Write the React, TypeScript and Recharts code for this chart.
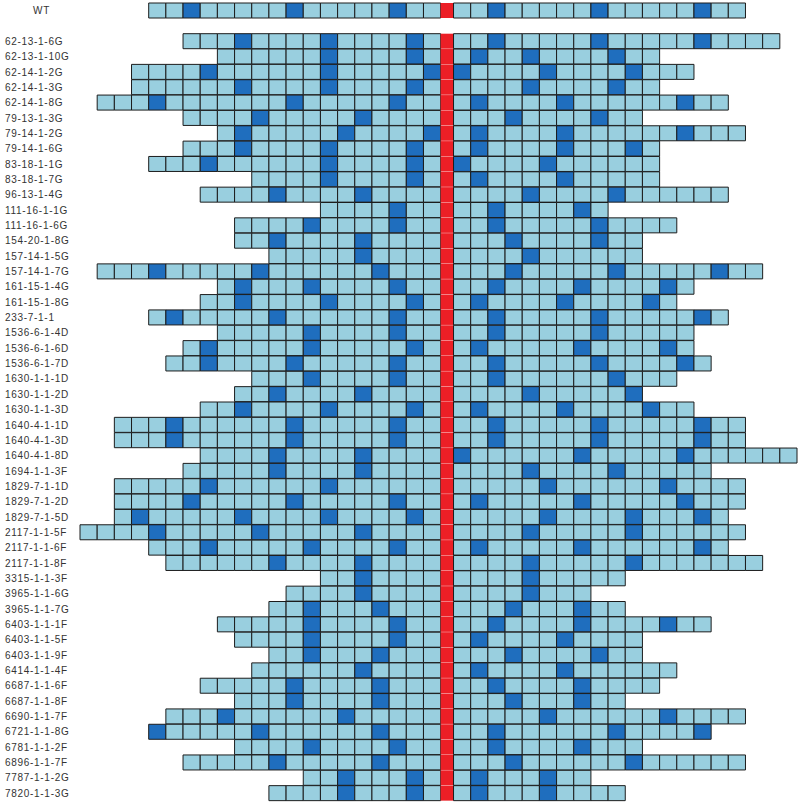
import React from 'react';
import { BarChart, Bar, XAxis, YAxis, Cell } from 'recharts';

// reference row (drawn on top, followed by an empty row)
const WT_LABEL = 'WT';
const WT_LEFT = 17;
const WT_RIGHT = 17;
const WT_LEFT_DARK = [3, 9, 15];
const WT_RIGHT_DARK = [3, 9, 15];

const labels = [
  '62-13-1-6G', '62-13-1-10G', '62-14-1-2G', '62-14-1-3G', '62-14-1-8G',
  '79-13-1-3G', '79-14-1-2G', '79-14-1-6G', '83-18-1-1G', '83-18-1-7G',
  '96-13-1-4G', '111-16-1-1G', '111-16-1-6G', '154-20-1-8G', '157-14-1-5G',
  '157-14-1-7G', '161-15-1-4G', '161-15-1-8G', '233-7-1-1', '1536-6-1-4D',
  '1536-6-1-6D', '1536-6-1-7D', '1630-1-1-1D', '1630-1-1-2D', '1630-1-1-3D',
  '1640-4-1-1D', '1640-4-1-3D', '1640-4-1-8D', '1694-1-1-3F', '1829-7-1-1D',
  '1829-7-1-2D', '1829-7-1-5D', '2117-1-1-5F', '2117-1-1-6F', '2117-1-1-8F',
  '3315-1-1-3F', '3965-1-1-6G', '3965-1-1-7G', '6403-1-1-1F', '6403-1-1-5F',
  '6403-1-1-9F', '6414-1-1-4F', '6687-1-1-6F', '6687-1-1-8F', '6690-1-1-7F',
  '6721-1-1-8G', '6781-1-1-2F', '6896-1-1-7F', '7787-1-1-2G', '7820-1-1-3G',
];

// number of cells left / right of the red centre cell
const leftCounts = [
  15, 13, 18, 18, 20, 15, 13, 15, 17, 11,
  14, 7, 12, 12, 10, 20, 13, 14, 17, 13,
  15, 16, 11, 12, 14, 19, 19, 14, 15, 19,
  19, 19, 21, 17, 16, 7, 9, 10, 13, 12,
  10, 11, 14, 12, 16, 17, 12, 15, 8, 10,
];
const rightCounts = [
  19, 12, 14, 12, 16, 11, 17, 12, 12, 12,
  16, 9, 13, 11, 11, 18, 14, 13, 16, 14,
  14, 15, 13, 11, 14, 17, 17, 20, 15, 17,
  17, 16, 17, 16, 18, 10, 8, 10, 15, 11,
  11, 13, 12, 10, 17, 15, 11, 17, 8, 10,
];

// dark cells, counted outward from the centre (1 = next to red)
const leftDark = [
  [12, 7, 2], [7, 2], [14, 7, 1], [12, 7, 2], [17, 9, 3],
  [11, 5], [12, 6, 1], [12, 7, 2], [14, 7, 2], [7, 2],
  [10, 5], [3], [8, 3], [10, 5], [5],
  [17, 11, 4], [12, 8, 3], [12, 7, 2], [16, 10, 3], [8, 3],
  [14, 8, 2], [14, 9, 3], [8, 3], [10, 5], [12, 7, 2],
  [16, 9, 3], [16, 9, 3], [10, 5], [10, 5], [14, 7],
  [15, 9, 3], [18, 12, 7, 2], [17, 11, 5], [14, 8, 3], [10, 5],
  [5], [5], [8, 4], [8, 3], [8, 3],
  [8, 4], [5], [9, 4], [9, 4], [13, 6],
  [17, 11, 4], [8, 3], [10, 4], [6, 2], [6, 2],
];
const rightDark = [
  [3, 9, 15], [2, 5, 10], [1, 6, 11], [5, 10], [2, 7, 14],
  [4, 9], [2, 7, 14], [2, 7, 11], [1, 6], [2, 7],
  [5, 10], [3, 8], [3, 9], [4, 9], [5],
  [4, 10, 16], [3, 8, 13], [2, 7, 12], [3, 9, 15], [3, 9],
  [2, 8, 13], [3, 9, 14], [3, 10], [5, 11], [2, 7, 12],
  [3, 9, 15], [3, 9, 15], [1, 8, 14], [5, 10], [6, 13],
  [2, 8, 14], [6, 11, 15], [5, 11], [2, 8, 15], [5, 11],
  [5], [5], [4, 8], [3, 8, 13], [2, 7],
  [4, 9], [2, 7], [3, 8], [4, 8], [6, 13],
  [3, 10, 15], [3, 8], [4, 11], [2, 6], [2, 6],
];

const LIGHT = '#99cfdf';
const DARK = '#1f6ebe';
const RED = '#ec1f26';
const EDGE = '#1c1c1c';
const CENTER = 0.75;

const rows = [
  { name: WT_LABEL, L: WT_LEFT, R: WT_RIGHT, dl: WT_LEFT_DARK, dr: WT_RIGHT_DARK },
  { name: '', L: 0, R: 0, dl: [], dr: [] },
  ...labels.map((name, i) => ({
    name,
    L: leftCounts[i],
    R: rightCounts[i],
    dl: leftDark[i],
    dr: rightDark[i],
  })),
];

const MAX_L = Math.max(...rows.map(r => r.L));
const MAX_R = Math.max(...rows.map(r => r.R));
const leftPos = Array.from({ length: MAX_L }, (_, i) => MAX_L - i);
const rightPos = Array.from({ length: MAX_R }, (_, i) => i + 1);

const tableData = rows.map(r => {
  const o: Record<string, any> = {
    name: r.name,
    pad: r.L ? MAX_L - r.L : 0,
    c: r.L || r.R ? CENTER : 0,
  };
  leftPos.forEach(d => { o[`l${d}`] = d <= r.L ? 1 : 0; });
  rightPos.forEach(d => { o[`r${d}`] = d <= r.R ? 1 : 0; });
  return o;
});

const RowTick = (props: any) => {
  const { y, payload } = props;
  const name = payload.value;
  if (!name) return <g />;
  return (
    <text
      x={name === WT_LABEL ? 33 : 5}
      y={y}
      dy={3.5}
      fontSize={10}
      letterSpacing={0.7}
      fill="#333"
      fontFamily="'Liberation Sans', Arial, sans-serif"
    >
      {name}
    </text>
  );
};

const App = () => {
  return (
    <div style={{ position: 'absolute', left: 0, top: 0, background: '#fff' }}>
      <BarChart
        width={800}
        height={803}
        data={tableData}
        layout="vertical"
        barCategoryGap={0}
        barGap={0}
        margin={{ top: 3, right: 3, bottom: 2, left: 0 }}
      >
        <XAxis type="number" hide domain={[0, MAX_L + CENTER + MAX_R]} />
        <YAxis
          type="category"
          dataKey="name"
          width={80}
          interval={0}
          axisLine={false}
          tickLine={false}
          tick={<RowTick />}
        />
        <Bar dataKey="pad" stackId="s" fill="none" stroke="none" isAnimationActive={false} />
        {leftPos.map(d => (
          <Bar key={`l${d}`} dataKey={`l${d}`} stackId="s" stroke={EDGE} strokeWidth={1} isAnimationActive={false}>
            {rows.map((r, i) => (
              <Cell key={`cl-${d}-${i}`} fill={r.dl.includes(d) ? DARK : LIGHT} />
            ))}
          </Bar>
        ))}
        <Bar dataKey="c" stackId="s" fill={RED} stroke="none" isAnimationActive={false} />
        {rightPos.map(d => (
          <Bar key={`r${d}`} dataKey={`r${d}`} stackId="s" stroke={EDGE} strokeWidth={1} isAnimationActive={false}>
            {rows.map((r, i) => (
              <Cell key={`cr-${d}-${i}`} fill={r.dr.includes(d) ? DARK : LIGHT} />
            ))}
          </Bar>
        ))}
      </BarChart>
    </div>
  );
};

export default App;
